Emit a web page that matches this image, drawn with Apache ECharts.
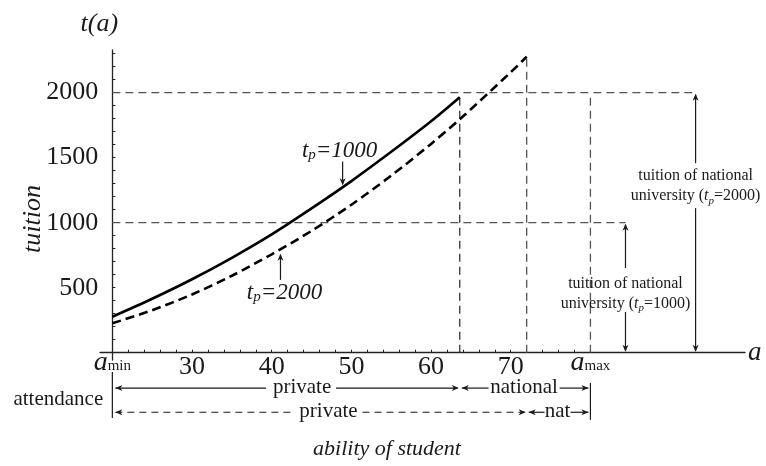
<!DOCTYPE html>
<html><head><meta charset="utf-8">
<script src="https://cdn.jsdelivr.net/npm/echarts@6/dist/echarts.min.js"></script>
<style>html,body{margin:0;padding:0;background:#fff}#c{width:766px;height:466px}</style>
</head><body><div id="c"></div>
<script>
// ---- data ----
const abilityLabels = [20, 30, 40, 50, 60, 70, 80];
const tuitionLabels = [500, 1000, 1500, 2000];
const abilitySolid = [20, 25, 30, 35, 40, 45, 50, 55, 60, 63.6];
const tuitionSolid = [277, 415, 565, 730, 910, 1110, 1320, 1545, 1780, 1965];
const abilityDashed = [20, 25, 30, 35, 40, 45, 50, 55, 60, 63.6, 70, 72];
const tuitionDashed = [226, 327, 448, 592, 757, 937, 1138, 1362, 1606, 1795, 2157, 2277];
const aMin = 20, aMax = 80;
const cutSolid = 63.6, cutDashed = 72;
const nationalTuition = [1000, 2000];
const rowTextsSolid = ['private', 'national'];
const rowTextsDashed = ['private', 'nat'];

const SERIF = "'Liberation Serif','DejaVu Serif',serif";
const INK = '#1a1a1a';
const GRAY = '#555';
const X_MIN = 18.45, X_MAX = 99.4, Y_MIN = -56, Y_MAX = 2328;

const xTicks = []; for (let v = aMin; v <= aMax; v += 2) xTicks.push(v);
const yTicks = []; for (let v = 0; v <= 2300; v += 100) yTicks.push(v);

const zip = (a, b) => a.map((v, i) => [v, b[i]]);

function hHead(x, y, dir) { // dir -1 left, +1 right
  return {type: 'polygon', shape: {points: [[x, y], [x - dir * 7, y - 3], [x - dir * 5, y], [x - dir * 7, y + 3]]}, style: {fill: INK}};
}
function vHead(x, y, dir) { // dir -1 up, +1 down
  return {type: 'polygon', shape: {points: [[x, y], [x - 3, y - dir * 7], [x, y - dir * 5], [x + 3, y - dir * 7]]}, style: {fill: INK}};
}
function seg(x1, y1, x2, y2, opt) {
  opt = opt || {};
  return {type: 'line', shape: {x1, y1, x2, y2}, style: {stroke: opt.color || INK, lineWidth: opt.w || 1.2, lineDash: opt.dash || null}};
}
function txt(x, y, text, style) {
  return {type: 'text', style: Object.assign({x, y, text, fill: INK, fontFamily: SERIF, fontSize: 21, align: 'center', verticalAlign: 'middle'}, style || {})};
}
const approxW = {private: 60, national: 67, nat: 22};

function renderAnn(params, api) {
  const P = (a, t) => api.coord([a, t]);
  const ch = [];
  // attendance rows
  const rows = [
    {t: -272, cut: cutSolid, texts: rowTextsSolid, dash: null, shift: 16},
    {t: -458, cut: cutDashed, texts: rowTextsDashed, dash: [7, 5], shift: 9}
  ];
  rows.forEach((r) => {
    const x0 = P(aMin, r.t)[0], x1 = P(r.cut, r.t)[0], x2 = P(aMax, r.t)[0], y = P(aMin, r.t)[1];
    let cx = (x0 + x1) / 2 + r.shift;
    let w = approxW[r.texts[0]];
    ch.push(seg(x0 + 3, y, cx - w / 2 - 6, y, {dash: r.dash}));
    ch.push(seg(cx + w / 2 + 4, y, x1 - 2, y, {dash: r.dash}));
    ch.push(hHead(x0 + 3, y, -1), hHead(x1 - 1, y, 1));
    ch.push(txt(cx, y - 1, r.texts[0]));
    cx = (x1 + x2) / 2 - 1;
    w = approxW[r.texts[1]];
    ch.push(seg(x1 + 2, y, cx - w / 2 - 2, y));
    ch.push(seg(cx + w / 2 + 2, y, x2 - 2, y));
    ch.push(hHead(x1 + 2, y, -1), hHead(x2 - 2, y, 1));
    ch.push(txt(cx, y - 1, r.texts[1]));
  });
  const b0 = P(aMin, -148), b1 = P(aMin, -502);
  ch.push(seg(b0[0], b0[1], b1[0], b1[1], {w: 1.2}));
  const c0 = P(aMax, -232), c1 = P(aMax, -516);
  ch.push(seg(c0[0], c0[1], c1[0], c1[1], {w: 1.2}));
  ch.push(txt(P(aMin, -272)[0] - 54, P(aMin, -272)[1] + 11, 'attendance'));

  // national tuition double arrows
  const natArrows = [
    {a: 84.4, top: nationalTuition[0], gapTop: 651, gapBot: 313, textT: 455, p: '1000'},
    {a: 93.2, top: nationalTuition[1], gapTop: 1458, gapBot: 1112, textT: 1280, p: '2000'}
  ];
  natArrows.forEach(n => {
    const pt = P(n.a, n.top), g1 = P(n.a, n.gapTop), g2 = P(n.a, n.gapBot), pb = P(n.a, 0), tc = P(n.a, n.textT);
    ch.push(seg(pt[0], pt[1] + 2, g1[0], g1[1]));
    ch.push(seg(g2[0], g2[1], pb[0], pb[1] - 2));
    ch.push(vHead(pt[0], pt[1] + 1, -1), vHead(pb[0], pb[1] - 1, 1));
    ch.push(txt(tc[0], tc[1], 'tuition of national\nuniversity ({i|t}{s|p}=' + n.p + ')', {
      fontSize: 16, lineHeight: 20,
      rich: {i: {fontStyle: 'italic', fontSize: 16, fontFamily: SERIF, fill: INK},
             s: {fontStyle: 'italic', fontSize: 11, fontFamily: SERIF, fill: INK, verticalAlign: 'bottom', lineHeight: 17}}
    }));
  });

  // curve labels
  const tpRich = {
    t: {fontStyle: 'italic', fontSize: 23, fontFamily: SERIF, fill: INK},
    p: {fontStyle: 'italic', fontSize: 15, fontFamily: SERIF, fill: INK, verticalAlign: 'bottom', lineHeight: 20},
    e: {fontStyle: 'italic', fontSize: 23, fontFamily: SERIF, fill: INK}
  };
  const l1a = P(48.9, 1280), l1b = P(48.9, 1470);
  ch.push(seg(l1b[0], l1b[1], l1a[0], l1a[1] - 2), vHead(l1a[0], l1a[1] - 1, 1));
  ch.push(txt(l1b[0] - 3, l1b[1] - 11, '{t|t}{p|p}{e|=1000}', {rich: tpRich}));
  const l2a = P(41.1, 768), l2b = P(41.1, 560);
  ch.push(seg(l2b[0], l2b[1], l2a[0], l2a[1] + 2), vHead(l2a[0], l2a[1] + 1, -1));
  ch.push(txt(l2b[0] + 4, l2b[1] + 13, '{t|t}{p|p}{e|=2000}', {rich: tpRich}));

  return {type: 'group', children: ch};
}

const dashedRef = (data, color) => ({
  type: 'line', data, symbol: 'none', silent: true, z: 1,
  lineStyle: {color: color || GRAY, width: 1.3, type: [8, 5]}
});

const chart = echarts.init(document.getElementById('c'), null, {renderer: 'canvas'});
const option = {
  animation: false,
  backgroundColor: '#fff',
  grid: {left: 100, right: 21, top: 50, bottom: 106, containLabel: false},
  xAxis: {
    type: 'value', min: X_MIN, max: X_MAX,
    axisLine: {onZero: true, lineStyle: {color: '#222', width: 1.3}},
    axisTick: {inside: true, length: 3, customValues: xTicks, lineStyle: {color: '#222'}},
    axisLabel: {
      customValues: abilityLabels, margin: -3, color: INK, fontFamily: SERIF, fontSize: 26, lineHeight: 20,
      formatter: v => v === aMin ? '{a|a}{s|min}' : v === aMax ? '{a|a}{s|max}' : String(v),
      rich: {
        a: {fontStyle: 'italic', fontSize: 28, fontFamily: SERIF, color: INK, verticalAlign: 'bottom', lineHeight: 20},
        s: {fontSize: 15, fontFamily: SERIF, color: INK, verticalAlign: 'bottom', lineHeight: 20, padding: [0, 0, 3, 0]}
      }
    },
    splitLine: {show: false},
    name: 'a', nameLocation: 'end', nameGap: 3,
    nameTextStyle: {fontFamily: SERIF, fontStyle: 'italic', fontSize: 27, color: INK, verticalAlign: 'middle', padding: [0, 0, 4, 0]}
  },
  yAxis: {
    type: 'value', min: Y_MIN, max: Y_MAX, offset: -12.36,
    axisLine: {lineStyle: {color: '#222', width: 1.3}},
    axisTick: {inside: true, length: 3, customValues: yTicks, lineStyle: {color: '#222'}},
    axisLabel: {customValues: tuitionLabels, margin: 14, color: INK, fontFamily: SERIF, fontSize: 26, formatter: v => String(v)},
    splitLine: {show: false},
    name: 't(a)', nameLocation: 'end', nameGap: 13,
    nameTextStyle: {fontFamily: SERIF, fontStyle: 'italic', fontSize: 26, color: INK, padding: [0, 26, 0, 0]}
  },
  graphic: [
    {type: 'text', x: 33, y: 219, rotation: Math.PI / 2, style: {text: 'tuition', fontFamily: SERIF, fontStyle: 'italic', fontSize: 26, fill: INK, align: 'center', verticalAlign: 'middle'}},
    {type: 'text', x: 387, y: 449, style: {text: 'ability of student', fontFamily: SERIF, fontStyle: 'italic', fontSize: 22, fill: INK, align: 'center', verticalAlign: 'middle'}}
  ],
  series: [
    dashedRef([[aMin, nationalTuition[1]], [93.2, nationalTuition[1]]]),
    dashedRef([[aMin, nationalTuition[0]], [84.4, nationalTuition[0]]]),
    dashedRef([[cutSolid, 0], [cutSolid, tuitionSolid[tuitionSolid.length - 1]]], '#333'),
    dashedRef([[cutDashed, 0], [cutDashed, tuitionDashed[tuitionDashed.length - 1]]]),
    dashedRef([[aMax, 0], [aMax, nationalTuition[1]]]),
    {type: 'line', name: 'tp=1000', data: zip(abilitySolid, tuitionSolid), smooth: 0.3, symbol: 'none', z: 3,
     lineStyle: {color: '#000', width: 2.6}},
    {type: 'line', name: 'tp=2000', data: zip(abilityDashed, tuitionDashed), smooth: 0.3, symbol: 'none', z: 3,
     lineStyle: {color: '#000', width: 2.6, type: [9, 5]}},
    {type: 'custom', data: [[aMin, 0]], encode: {x: 0, y: 1}, renderItem: renderAnn, silent: true, z: 4, clip: false}
  ]
};
chart.setOption(option);
</script>
</body></html>
